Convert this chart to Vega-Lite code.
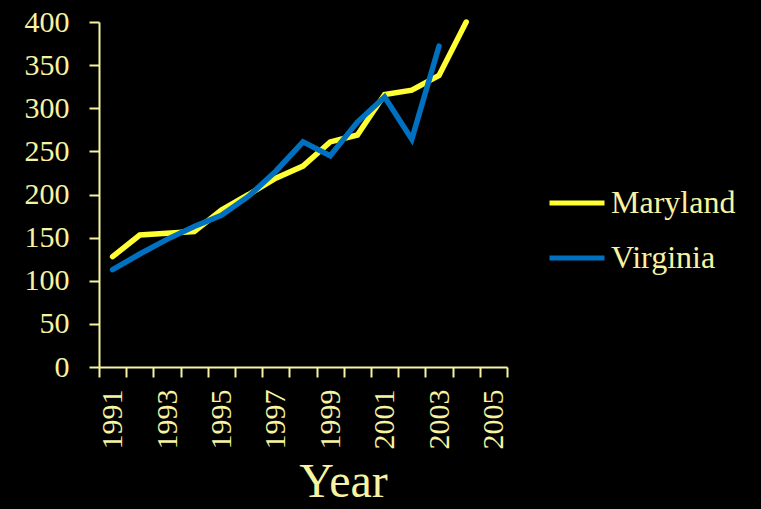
{
  "$schema": "https://vega.github.io/schema/vega-lite/v6.json",
  "width": 408,
  "height": 345,
  "autosize": {"type": "none"},
  "padding": {"left": 99, "top": 22, "right": 254, "bottom": 142},
  "background": "#000000",
  "config": {"view": {"stroke": null}, "font": "Liberation Serif"},
  "data": {"values": [
    {"Year": 1991, "State": "Maryland", "Value": 128},
    {"Year": 1992, "State": "Maryland", "Value": 153},
    {"Year": 1993, "State": "Maryland", "Value": 155},
    {"Year": 1994, "State": "Maryland", "Value": 157},
    {"Year": 1995, "State": "Maryland", "Value": 182},
    {"Year": 1996, "State": "Maryland", "Value": 200},
    {"Year": 1997, "State": "Maryland", "Value": 219},
    {"Year": 1998, "State": "Maryland", "Value": 233},
    {"Year": 1999, "State": "Maryland", "Value": 261},
    {"Year": 2000, "State": "Maryland", "Value": 269},
    {"Year": 2001, "State": "Maryland", "Value": 316},
    {"Year": 2002, "State": "Maryland", "Value": 321},
    {"Year": 2003, "State": "Maryland", "Value": 338},
    {"Year": 2004, "State": "Maryland", "Value": 400},
    {"Year": 1991, "State": "Virginia", "Value": 113},
    {"Year": 1992, "State": "Virginia", "Value": 131},
    {"Year": 1993, "State": "Virginia", "Value": 148},
    {"Year": 1994, "State": "Virginia", "Value": 163},
    {"Year": 1995, "State": "Virginia", "Value": 176},
    {"Year": 1996, "State": "Virginia", "Value": 198},
    {"Year": 1997, "State": "Virginia", "Value": 227},
    {"Year": 1998, "State": "Virginia", "Value": 261},
    {"Year": 1999, "State": "Virginia", "Value": 245},
    {"Year": 2000, "State": "Virginia", "Value": 284},
    {"Year": 2001, "State": "Virginia", "Value": 313},
    {"Year": 2002, "State": "Virginia", "Value": 264},
    {"Year": 2003, "State": "Virginia", "Value": 372}
  ]},
  "mark": {"type": "line", "strokeWidth": 5.5, "strokeCap": "round", "clip": false},
  "encoding": {
    "x": {
      "field": "Year", "type": "quantitative",
      "scale": {"domain": [1990.5, 2005.5], "nice": false, "zero": false},
      "axis": {
        "values": [1990.5, 1991.5, 1992.5, 1993.5, 1994.5, 1995.5, 1996.5, 1997.5, 1998.5, 1999.5, 2000.5, 2001.5, 2002.5, 2003.5, 2004.5, 2005.5],
        "labelExpr": "(datum.value + 0.5) % 2 == 1 ? format(datum.value + 0.5, 'd') : ''",
        "labelOffset": 13.6,
        "labelAngle": -90,
        "labelAlign": "right",
        "labelBaseline": "middle",
        "labelFontSize": 30,
        "labelColor": "#F7F3A1",
        "labelPadding": 12,
        "labelOverlap": false,
        "labelBound": false,
        "labelFlush": false,
        "tickSize": 10,
        "tickWidth": 2,
        "tickColor": "#F7F3A1",
        "domainColor": "#F7F3A1",
        "domainWidth": 2,
        "grid": false,
        "title": "Year",
        "titleFontSize": 48,
        "titleFontWeight": "normal",
        "titleColor": "#F7F3A1",
        "titleX": 244,
        "titleY": 129,
        "titleAlign": "center",
        "titleBaseline": "alphabetic"
      }
    },
    "y": {
      "field": "Value", "type": "quantitative",
      "scale": {"domain": [0, 400], "nice": false},
      "axis": {
        "values": [0, 50, 100, 150, 200, 250, 300, 350, 400],
        "labelFontSize": 30,
        "labelColor": "#F7F3A1",
        "labelPadding": 20,
        "tickSize": 10,
        "tickWidth": 2,
        "tickColor": "#F7F3A1",
        "domainColor": "#F7F3A1",
        "domainWidth": 2,
        "grid": false,
        "title": null
      }
    },
    "color": {
      "field": "State", "type": "nominal",
      "scale": {"domain": ["Maryland", "Virginia"], "range": ["#FFFF33", "#0070C0"]},
      "legend": {
        "orient": "none",
        "legendX": 448,
        "legendY": 151,
        "title": null,
        "symbolType": "stroke",
        "symbolSize": 3025,
        "symbolStrokeWidth": 5,
        "labelFontSize": 32,
        "labelColor": "#F7F3A1",
        "labelOffset": 4,
        "rowPadding": 9
      }
    }
  }
}
